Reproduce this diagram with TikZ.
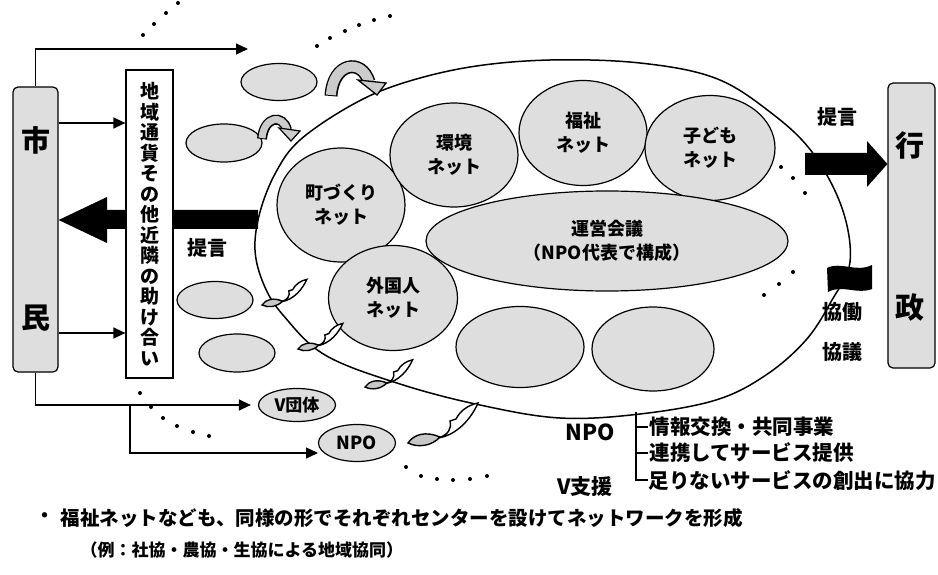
\documentclass[tikz,border=0pt]{standalone}
\usepackage{fontspec}
\setmainfont{Noto Sans CJK JP}
\usetikzlibrary{arrows.meta,shapes.geometric}

\begin{document}
\begin{tikzpicture}[x=1pt, y=-1pt, line width=1.2pt,
    every node/.style={font=\bfseries},
    gbox/.style={draw, fill=black!13, rounded corners=5pt, line width=1.2pt},
    net/.style={ellipse, draw, fill=black!13, line width=1.2pt, align=center, inner sep=0pt, font=\bfseries\fontsize{18}{24}\selectfont},
    arr/.style={-{Triangle[length=12pt, width=11pt]}, line width=1.3pt},
    big/.style={font=\bfseries\fontsize{29}{29}\selectfont},
    lbl/.style={inner sep=0pt, font=\bfseries\fontsize{20}{20}\selectfont},
    item/.style={anchor=west, inner sep=0pt, font=\bfseries\fontsize{20.5}{20.5}\selectfont}]
  \useasboundingbox (0,0) rectangle (938,575);

  % citizens and administration
  \node[gbox, minimum width=45pt, minimum height=285pt] (shimin) at (35.5,229.5) {};
  \node[big] (shi) at (35.5,140) {市};
  \node[big] (min) at (35.5,318) {民};
  \node[gbox, minimum width=47pt, minimum height=285pt] (gyosei) at (911.5,225.5) {};
  \node[big] (gyo) at (910,145) {行};
  \node[big] (sei) at (910,308) {政};

  % the center
  \draw[line width=1.5pt, fill=white] plot [smooth cycle, tension=0.6] coordinates {(255,250) (260,212) (276,172) (300,140) (350,106) (400,84) (470,67) (550,60) (640,63) (715,78) (770,112) (812,152) (842,208) (850,262) (832,300) (806,340) (766,375) (716,400) (640,414) (560,418) (480,405) (400,384) (325,355) (283,315) (264,285)};

  \node[net, minimum width=128pt, minimum height=114pt] (machi) at (341,205) {町づくり\\ネット};
  \node[net, minimum width=128pt, minimum height=104pt] (kankyo) at (454,155) {環境\\ネット};
  \node[net, minimum width=128pt, minimum height=105pt] (fukushi) at (583,133) {福祉\\ネット};
  \node[net, minimum width=130pt, minimum height=105pt] (kodomo) at (710,148) {子ども\\ネット};
  \node[net, minimum width=362pt, minimum height=100pt] (unei) at (607,241) {運営会議\\（NPO代表で構成）};
  \node[net, minimum width=129pt, minimum height=105pt] (gaikoku) at (393,298) {外国人\\ネット};
  \node[net, minimum width=128pt, minimum height=81pt] (blank1) at (520,347) {};
  \node[net, minimum width=122pt, minimum height=84pt] (blank2) at (653,349) {};

  % small groups outside
  \node[net, minimum width=76pt, minimum height=37pt] (grpa) at (279,82) {};
  \node[net, minimum width=76pt, minimum height=38pt] (grpb) at (224,143) {};
  \node[net, minimum width=76pt, minimum height=37pt] (grpc) at (215,300) {};
  \node[net, minimum width=76pt, minimum height=38pt] (grpd) at (237,353) {};
  \node[net, minimum width=77pt, minimum height=33pt, font=\bfseries\fontsize{17}{17}\selectfont] (vdan) at (297,405) {V団体};
  \node[net, minimum width=77pt, minimum height=37pt, font=\bfseries\fontsize{18}{18}\selectfont] (npo) at (357,443) {NPO};

  % flag
  \fill (827,268) .. controls (841,261) and (856,273) .. (872,265) -- (872,289) .. controls (857,295) and (842,284) .. (828,292) -- cycle;

  % thick arrows
  \fill (shimin.east |- 0,220) -- (107,197) -- (107,210) -- (258,210) -- (258,229) -- (107,229) -- (107,243) -- cycle;
  \fill (805,153) -- (867,153) -- (867,141) -- (gyosei.west |- 0,164) -- (867,187) -- (867,175) -- (805,175) -- cycle;

  % mutual help
  \node[draw, fill=white, line width=1.2pt, minimum width=47pt, minimum height=308pt, align=center, font=\bfseries\fontsize{19}{20.5}\selectfont] (chiiki) at (149.5,224) {地\\域\\通\\貨\\そ\\の\\他\\近\\隣\\の\\助\\け\\合\\い};

  % connectors
  \coordinate (topend) at (248,49);
  \coordinate (yshi) at (0,123);
  \coordinate (ymin) at (0,333);
  \coordinate (br) at (130,405);
  \coordinate (npoin) at (318,453);
  \draw[arr] (shimin.north) |- (topend);
  \draw[arr] (shimin.east |- yshi) -- (chiiki.west |- yshi);
  \draw[arr] (shimin.east |- ymin) -- (chiiki.west |- ymin);
  \draw[arr] (shimin.south) |- ([xshift=-7pt]vdan.west);
  \draw[arr] (br) |- (npoin);

  % dots
  \foreach \p in {(143,35),(154,24),(166,13),(178,3),
                  (317,46),(330,38),(345,31),(359,25),(374,20),(390,16),
                  (781,167),(793,178),(805,193),
                  (793,272),(779,284),(764,295),
                  (140,393),(151,407),(163,418),(177,426),(193,432),(209,436),
                  (406,467),(421,476),(437,479),(453,480),(470,479),(487,476)}
    \fill \p circle (2pt);

  % joining arrows
  \draw[line width=13pt] (331,96) .. controls (333,62) and (362,58) .. (369,82);
  \draw[line width=10pt, black!20] (331,95) .. controls (333,62) and (362,58) .. (369,82);
  \filldraw[fill=black!20, line width=1.3pt] (358,80) -- (386,83) -- (377,95) -- cycle;
  \draw[line width=10pt] (262,139) .. controls (264,116) and (283,114) .. (287,130);
  \draw[line width=7pt, black!20] (262,138) .. controls (264,116) and (283,114) .. (287,130);
  \filldraw[fill=black!20, line width=1.2pt] (279,128) -- (300,131) -- (291,141) -- cycle;

  \foreach \x/\y/\s in {262/305/0.64, 298/349/0.64, 365/387/0.68, 408/443/1}{
    \begin{scope}[shift={(\x,\y)}, scale=\s]
      \filldraw[fill=black!22, line width=1.4pt] (0,0) .. controls (6,-9) and (18,-12) .. (32,-6) .. controls (24,3) and (10,5) .. (0,0) -- cycle;
      \filldraw[fill=white, line width=1.4pt] (30,-5) .. controls (50,-8) and (64,-26) .. (70,-40) .. controls (60,-38) and (52,-32) .. (48,-24) -- (42,-22) .. controls (44,-14) and (40,-8) .. (30,-5) -- cycle;
    \end{scope}}

  % labels
  \node[lbl] (teigenl) at (207,248) {提言};
  \node[lbl] (teigenr) at (837,117) {提言};
  \node[lbl] (kyodo) at (842,312) {協働};
  \node[lbl] (kyogi) at (842,352) {協議};
  \node[lbl, font=\bfseries\fontsize{22}{22}\selectfont] (npolbl) at (590,432) {NPO};
  \node[lbl, font=\bfseries\fontsize{21}{21}\selectfont] (vshien) at (585,487) {V支援};

  \draw[line width=1.3pt] (636,412) -- (636,480) -- (648,480);
  \draw[line width=1.3pt] (636,427) -- (648,427);
  \draw[line width=1.3pt] (636,453) -- (648,453);
  \node[item] (sup1) at (649,427) {情報交換・共同事業};
  \node[item] (sup2) at (649,453) {連携してサービス提供};
  \node[item] (sup3) at (648,481) {足りないサービスの創出に協力};

  % notes
  \node[lbl, font=\bfseries\fontsize{19}{19}\selectfont] (bullet) at (45,518) {・};
  \node[lbl, anchor=west, font=\bfseries\fontsize{19.5}{19.5}\selectfont] (note1) at (60,518) {福祉ネットなども、同様の形でそれぞれセンターを設けてネットワークを形成};
  \node[lbl, anchor=west, font=\bfseries\fontsize{17}{17}\selectfont] (note2) at (80,550) {（例：社協・農協・生協による地域協同）};
\end{tikzpicture}
\end{document}
